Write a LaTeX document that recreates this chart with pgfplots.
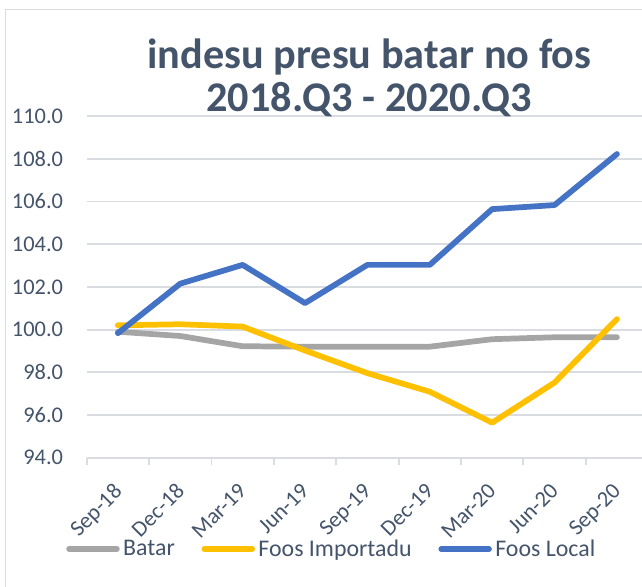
\documentclass[border=0pt]{standalone}
\usepackage{fontspec}
\setmainfont{Carlito}
\usepackage{pgfplots}
\pgfplotsset{compat=1.18}
\definecolor{txt}{HTML}{44546A}
\definecolor{gridc}{HTML}{D9DCE1}
\definecolor{cgray}{HTML}{A5A5A5}
\definecolor{cyel}{HTML}{FFC000}
\definecolor{cblue}{HTML}{4472C4}
\begin{document}
\begin{tikzpicture}
\useasboundingbox (0pt,0pt) rectangle (481.5pt,439.5pt);
\draw[gridc, line width=0.9pt] (4.3pt,-5pt) -- (4.3pt,432.5pt) -- (495pt,432.5pt);
\begin{axis}[
  at={(65pt,96.2pt)}, anchor=south west,
  scale only axis, width=421.1pt, height=256.3pt,
  xmin=-0.5, xmax=8.5, ymin=94, ymax=110,
  xtick={0,...,8},
  xticklabels={Sep-18,Dec-18,Mar-19,Jun-19,Sep-19,Dec-19,Mar-20,Jun-20,Sep-20},
  minor xtick={-0.5,0.5,...,8.5},
  ytick={94,96,...,110},
  axis line style={draw=none},
  ymajorgrids, major grid style={gridc, line width=1.4pt},
  tick align=outside, xtick pos=bottom, ytick pos=left,
  major tick length=0pt, minor tick length=5.8pt,
  minor x tick style={gridc, line width=1.4pt},
  major x tick style={draw=none}, ytick style={draw=none},
  /pgf/number format/assume math mode=true,
  tick label style={font=\fontsize{16.8}{20}\selectfont, text=txt},
  yticklabel style={/pgf/number format/fixed, /pgf/number format/fixed zerofill, /pgf/number format/precision=1, anchor=east, inner sep=0pt, xshift=-17.5pt},
  xticklabel style={xshift=-4.1pt, yshift=-18pt, rotate=45, anchor=north east, inner sep=0pt},
  legend style={at={(0.4348,-0.267)}, anchor=center, draw=none, fill=none,
    font=\fontsize{17.9}{21}\selectfont, text=txt,
    /tikz/every odd column/.style={column sep=2.6pt},
    /tikz/every even column/.style={column sep=20pt},
    nodes={inner sep=0pt}},
  legend columns=3,
  legend image code/.code={\draw[#1, line cap=round] (2.1pt,0pt) -- (37.9pt,0pt);},
  every axis plot/.append style={line width=4.3pt, line cap=round, line join=round},
]
\addplot[cgray] coordinates {(0,99.9)(1,99.7)(2,99.22)(3,99.2)(4,99.2)(5,99.2)(6,99.55)(7,99.64)(8,99.64)};
\addlegendentry{Batar}
\addplot[cyel] coordinates {(0,100.2)(1,100.25)(2,100.14)(3,99.02)(4,97.96)(5,97.09)(6,95.64)(7,97.52)(8,100.49)};
\addlegendentry{Foos Importadu}
\addplot[cblue] coordinates {(0,99.83)(1,102.15)(2,103.03)(3,101.24)(4,103.03)(5,103.03)(6,105.64)(7,105.83)(8,108.22)};
\addlegendentry{Foos Local}
\end{axis}
\node[anchor=base, text=txt, font=\bfseries\fontsize{31.7}{38}\selectfont] at (277pt,388.3pt) {indesu presu batar no fos};
\node[anchor=base, text=txt, font=\bfseries\fontsize{31.7}{38}\selectfont] at (277pt,355.7pt) {2018.Q3 - 2020.Q3};
\end{tikzpicture}
\end{document}
